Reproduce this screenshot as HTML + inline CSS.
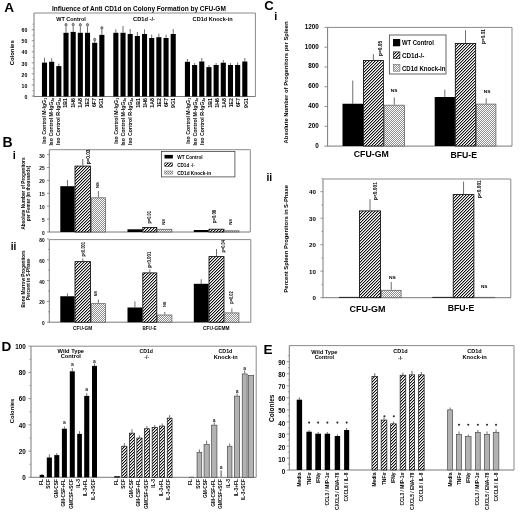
<!DOCTYPE html><html><head><meta charset="utf-8"><style>html,body{margin:0;padding:0;background:#fff;}svg{display:block;}text{font-family:"Liberation Sans",sans-serif;}</style></head><body>
<svg width="520" height="513" viewBox="0 0 520 513" style="filter:grayscale(1)">
<defs>
<pattern id="hatch" patternUnits="userSpaceOnUse" x="0" y="0" width="3" height="3"><rect x="0" y="0" width="1" height="1" fill="#111"/><rect x="1" y="0" width="1" height="1" fill="#a8a8a8"/><rect x="2" y="0" width="1" height="1" fill="#fff"/><rect x="0" y="1" width="1" height="1" fill="#a8a8a8"/><rect x="1" y="1" width="1" height="1" fill="#fff"/><rect x="2" y="1" width="1" height="1" fill="#111"/><rect x="0" y="2" width="1" height="1" fill="#fff"/><rect x="1" y="2" width="1" height="1" fill="#111"/><rect x="2" y="2" width="1" height="1" fill="#a8a8a8"/></pattern>
<pattern id="hatchs" patternUnits="userSpaceOnUse" x="0" y="0" width="3" height="3"><rect x="0" y="0" width="1" height="1" fill="#111"/><rect x="1" y="0" width="1" height="1" fill="#a8a8a8"/><rect x="2" y="0" width="1" height="1" fill="#fff"/><rect x="0" y="1" width="1" height="1" fill="#a8a8a8"/><rect x="1" y="1" width="1" height="1" fill="#fff"/><rect x="2" y="1" width="1" height="1" fill="#111"/><rect x="0" y="2" width="1" height="1" fill="#fff"/><rect x="1" y="2" width="1" height="1" fill="#111"/><rect x="2" y="2" width="1" height="1" fill="#a8a8a8"/></pattern>
<pattern id="dots" patternUnits="userSpaceOnUse" x="0" y="0" width="2" height="2"><rect x="0" y="0" width="1" height="1" fill="#fff"/><rect x="1" y="0" width="1" height="1" fill="#8e8e8e"/><rect x="0" y="1" width="1" height="1" fill="#8e8e8e"/><rect x="1" y="1" width="1" height="1" fill="#fff"/></pattern>
</defs>
<g>
<rect width="520" height="513" fill="#fff"/>
<g transform="translate(4.30,12.40)"><text x="0" y="0" font-size="13.6" font-weight="bold" text-anchor="start" fill="#000" >A</text></g>
<g transform="translate(52.00,10.80)"><text x="0" y="0" font-size="6.5" font-weight="bold" text-anchor="start" fill="#000" textLength="173.8" lengthAdjust="spacingAndGlyphs" >Influence of Anti CD1d on Colony Formation by CFU-GM</text></g>
<line x1="34.00" y1="13.00" x2="255.40" y2="13.00" stroke="#8a8a8a" stroke-width="1.0"/>
<line x1="255.40" y1="13.00" x2="255.40" y2="96.50" stroke="#8a8a8a" stroke-width="1.0"/>
<line x1="34.00" y1="13.00" x2="34.00" y2="96.50" stroke="#7a7a7a" stroke-width="1.0"/>
<line x1="33.50" y1="96.50" x2="255.40" y2="96.50" stroke="#7a7a7a" stroke-width="1.0"/>
<line x1="31.70" y1="96.00" x2="34.00" y2="96.00" stroke="#7a7a7a" stroke-width="0.8"/>
<g transform="translate(27.40,98.67)"><text x="0" y="0" font-size="5.2" font-weight="bold" text-anchor="end" fill="#000" >0</text></g>
<line x1="31.70" y1="84.95" x2="34.00" y2="84.95" stroke="#7a7a7a" stroke-width="0.8"/>
<g transform="translate(27.40,87.62)"><text x="0" y="0" font-size="5.2" font-weight="bold" text-anchor="end" fill="#000" >10</text></g>
<line x1="31.70" y1="73.90" x2="34.00" y2="73.90" stroke="#7a7a7a" stroke-width="0.8"/>
<g transform="translate(27.40,76.57)"><text x="0" y="0" font-size="5.2" font-weight="bold" text-anchor="end" fill="#000" >20</text></g>
<line x1="31.70" y1="62.85" x2="34.00" y2="62.85" stroke="#7a7a7a" stroke-width="0.8"/>
<g transform="translate(27.40,65.52)"><text x="0" y="0" font-size="5.2" font-weight="bold" text-anchor="end" fill="#000" >30</text></g>
<line x1="31.70" y1="51.80" x2="34.00" y2="51.80" stroke="#7a7a7a" stroke-width="0.8"/>
<g transform="translate(27.40,54.47)"><text x="0" y="0" font-size="5.2" font-weight="bold" text-anchor="end" fill="#000" >40</text></g>
<line x1="31.70" y1="40.75" x2="34.00" y2="40.75" stroke="#7a7a7a" stroke-width="0.8"/>
<g transform="translate(27.40,43.42)"><text x="0" y="0" font-size="5.2" font-weight="bold" text-anchor="end" fill="#000" >50</text></g>
<line x1="31.70" y1="29.70" x2="34.00" y2="29.70" stroke="#7a7a7a" stroke-width="0.8"/>
<g transform="translate(27.40,32.37)"><text x="0" y="0" font-size="5.2" font-weight="bold" text-anchor="end" fill="#000" >60</text></g>
<line x1="32.50" y1="90.47" x2="34.00" y2="90.47" stroke="#7a7a7a" stroke-width="0.7"/>
<line x1="32.50" y1="79.42" x2="34.00" y2="79.42" stroke="#7a7a7a" stroke-width="0.7"/>
<line x1="32.50" y1="68.38" x2="34.00" y2="68.38" stroke="#7a7a7a" stroke-width="0.7"/>
<line x1="32.50" y1="57.33" x2="34.00" y2="57.33" stroke="#7a7a7a" stroke-width="0.7"/>
<line x1="32.50" y1="46.27" x2="34.00" y2="46.27" stroke="#7a7a7a" stroke-width="0.7"/>
<line x1="32.50" y1="35.23" x2="34.00" y2="35.23" stroke="#7a7a7a" stroke-width="0.7"/>
<line x1="32.50" y1="24.17" x2="34.00" y2="24.17" stroke="#7a7a7a" stroke-width="0.7"/>
<g transform="translate(13.90,52.80) rotate(-90)"><text x="0" y="0" font-size="5.8" font-weight="bold" text-anchor="middle" fill="#000" textLength="25" lengthAdjust="spacingAndGlyphs" >Colonies</text></g>
<g transform="translate(56.20,20.80)"><text x="0" y="0" font-size="5.5" font-weight="bold" text-anchor="start" fill="#000" textLength="29.6" lengthAdjust="spacingAndGlyphs" >WT Control</text></g>
<g transform="translate(133.00,20.80)"><text x="0" y="0" font-size="5.5" font-weight="bold" text-anchor="start" fill="#000" textLength="22" lengthAdjust="spacingAndGlyphs" >CD1d -/-</text></g>
<g transform="translate(192.60,20.80)"><text x="0" y="0" font-size="5.5" font-weight="bold" text-anchor="start" fill="#000" textLength="40" lengthAdjust="spacingAndGlyphs" >CD1d Knock-in</text></g>
<line x1="44.50" y1="62.60" x2="44.50" y2="57.70" stroke="#4a4a4a" stroke-width="0.8"/>
<rect x="41.95" y="62.60" width="5.10" height="33.90" fill="#000"/>
<g transform="translate(45.85,98.00) rotate(-90)"><text x="0" y="0" font-size="5.25" font-weight="bold" text-anchor="end" fill="#000" >Iso Control M-IgG<tspan font-size="3.2" dy="1">1</tspan></text></g>
<line x1="51.67" y1="61.75" x2="51.67" y2="58.20" stroke="#4a4a4a" stroke-width="0.8"/>
<rect x="49.12" y="61.75" width="5.10" height="34.75" fill="#000"/>
<g transform="translate(53.02,98.00) rotate(-90)"><text x="0" y="0" font-size="5.25" font-weight="bold" text-anchor="end" fill="#000" >Iso Control M-IgG<tspan font-size="3.2" dy="1">2a</tspan></text></g>
<line x1="58.84" y1="66.10" x2="58.84" y2="63.60" stroke="#4a4a4a" stroke-width="0.8"/>
<rect x="56.29" y="66.10" width="5.10" height="30.40" fill="#000"/>
<g transform="translate(60.19,98.00) rotate(-90)"><text x="0" y="0" font-size="5.25" font-weight="bold" text-anchor="end" fill="#000" >Iso Control R-IgG<tspan font-size="3.2" dy="1">2a</tspan></text></g>
<line x1="66.01" y1="32.80" x2="66.01" y2="26.50" stroke="#4a4a4a" stroke-width="0.8"/>
<rect x="63.46" y="32.80" width="5.10" height="63.70" fill="#000"/>
<ellipse cx="66.01" cy="24.80" rx="1.05" ry="1.4" fill="#aaa" stroke="#444" stroke-width="0.7"/>
<g transform="translate(67.36,98.00) rotate(-90)"><text x="0" y="0" font-size="5.25" font-weight="bold" text-anchor="end" fill="#000" >1B1</text></g>
<line x1="73.18" y1="31.90" x2="73.18" y2="26.30" stroke="#4a4a4a" stroke-width="0.8"/>
<rect x="70.63" y="31.90" width="5.10" height="64.60" fill="#000"/>
<ellipse cx="73.18" cy="24.60" rx="1.05" ry="1.4" fill="#aaa" stroke="#444" stroke-width="0.7"/>
<g transform="translate(74.53,98.00) rotate(-90)"><text x="0" y="0" font-size="5.25" font-weight="bold" text-anchor="end" fill="#000" >1H6</text></g>
<line x1="80.35" y1="32.80" x2="80.35" y2="26.50" stroke="#4a4a4a" stroke-width="0.8"/>
<rect x="77.80" y="32.80" width="5.10" height="63.70" fill="#000"/>
<ellipse cx="80.35" cy="24.80" rx="1.05" ry="1.4" fill="#aaa" stroke="#444" stroke-width="0.7"/>
<g transform="translate(81.70,98.00) rotate(-90)"><text x="0" y="0" font-size="5.25" font-weight="bold" text-anchor="end" fill="#000" >1A8</text></g>
<line x1="87.52" y1="32.80" x2="87.52" y2="26.50" stroke="#4a4a4a" stroke-width="0.8"/>
<rect x="84.97" y="32.80" width="5.10" height="63.70" fill="#000"/>
<ellipse cx="87.52" cy="24.80" rx="1.05" ry="1.4" fill="#aaa" stroke="#444" stroke-width="0.7"/>
<g transform="translate(88.87,98.00) rotate(-90)"><text x="0" y="0" font-size="5.25" font-weight="bold" text-anchor="end" fill="#000" >1E2</text></g>
<line x1="94.69" y1="42.80" x2="94.69" y2="41.00" stroke="#4a4a4a" stroke-width="0.8"/>
<rect x="92.14" y="42.80" width="5.10" height="53.70" fill="#000"/>
<ellipse cx="94.69" cy="39.60" rx="1.05" ry="1.4" fill="#aaa" stroke="#444" stroke-width="0.7"/>
<g transform="translate(96.04,98.00) rotate(-90)"><text x="0" y="0" font-size="5.25" font-weight="bold" text-anchor="end" fill="#000" >6F7</text></g>
<line x1="101.86" y1="34.90" x2="101.86" y2="29.90" stroke="#4a4a4a" stroke-width="0.8"/>
<rect x="99.31" y="34.90" width="5.10" height="61.60" fill="#000"/>
<ellipse cx="101.86" cy="28.00" rx="1.05" ry="1.4" fill="#aaa" stroke="#444" stroke-width="0.7"/>
<g transform="translate(103.21,98.00) rotate(-90)"><text x="0" y="0" font-size="5.25" font-weight="bold" text-anchor="end" fill="#000" >9G1</text></g>
<line x1="115.85" y1="32.80" x2="115.85" y2="29.30" stroke="#4a4a4a" stroke-width="0.8"/>
<rect x="113.30" y="32.80" width="5.10" height="63.70" fill="#000"/>
<g transform="translate(118.05,98.00) rotate(-90)"><text x="0" y="0" font-size="5.25" font-weight="bold" text-anchor="end" fill="#000" >Iso Control M-IgG<tspan font-size="3.2" dy="1">1</tspan></text></g>
<line x1="123.02" y1="32.80" x2="123.02" y2="26.00" stroke="#4a4a4a" stroke-width="0.8"/>
<rect x="120.47" y="32.80" width="5.10" height="63.70" fill="#000"/>
<g transform="translate(125.22,98.00) rotate(-90)"><text x="0" y="0" font-size="5.25" font-weight="bold" text-anchor="end" fill="#000" >Iso Control M-IgG<tspan font-size="3.2" dy="1">2a</tspan></text></g>
<line x1="130.19" y1="34.00" x2="130.19" y2="29.00" stroke="#4a4a4a" stroke-width="0.8"/>
<rect x="127.64" y="34.00" width="5.10" height="62.50" fill="#000"/>
<g transform="translate(132.39,98.00) rotate(-90)"><text x="0" y="0" font-size="5.25" font-weight="bold" text-anchor="end" fill="#000" >Iso Control R-IgG<tspan font-size="3.2" dy="1">2a</tspan></text></g>
<line x1="137.36" y1="36.00" x2="137.36" y2="32.00" stroke="#4a4a4a" stroke-width="0.8"/>
<rect x="134.81" y="36.00" width="5.10" height="60.50" fill="#000"/>
<g transform="translate(139.56,98.00) rotate(-90)"><text x="0" y="0" font-size="5.25" font-weight="bold" text-anchor="end" fill="#000" >1B1</text></g>
<line x1="144.53" y1="34.00" x2="144.53" y2="29.30" stroke="#4a4a4a" stroke-width="0.8"/>
<rect x="141.98" y="34.00" width="5.10" height="62.50" fill="#000"/>
<g transform="translate(146.73,98.00) rotate(-90)"><text x="0" y="0" font-size="5.25" font-weight="bold" text-anchor="end" fill="#000" >1H6</text></g>
<line x1="151.70" y1="38.00" x2="151.70" y2="34.60" stroke="#4a4a4a" stroke-width="0.8"/>
<rect x="149.15" y="38.00" width="5.10" height="58.50" fill="#000"/>
<g transform="translate(153.90,98.00) rotate(-90)"><text x="0" y="0" font-size="5.25" font-weight="bold" text-anchor="end" fill="#000" >1A8</text></g>
<line x1="158.87" y1="37.20" x2="158.87" y2="33.70" stroke="#4a4a4a" stroke-width="0.8"/>
<rect x="156.32" y="37.20" width="5.10" height="59.30" fill="#000"/>
<g transform="translate(161.07,98.00) rotate(-90)"><text x="0" y="0" font-size="5.25" font-weight="bold" text-anchor="end" fill="#000" >1E2</text></g>
<line x1="166.04" y1="38.00" x2="166.04" y2="34.60" stroke="#4a4a4a" stroke-width="0.8"/>
<rect x="163.49" y="38.00" width="5.10" height="58.50" fill="#000"/>
<g transform="translate(168.24,98.00) rotate(-90)"><text x="0" y="0" font-size="5.25" font-weight="bold" text-anchor="end" fill="#000" >6F7</text></g>
<line x1="173.21" y1="34.00" x2="173.21" y2="29.00" stroke="#4a4a4a" stroke-width="0.8"/>
<rect x="170.66" y="34.00" width="5.10" height="62.50" fill="#000"/>
<g transform="translate(175.41,98.00) rotate(-90)"><text x="0" y="0" font-size="5.25" font-weight="bold" text-anchor="end" fill="#000" >9G1</text></g>
<line x1="187.45" y1="61.80" x2="187.45" y2="59.00" stroke="#4a4a4a" stroke-width="0.8"/>
<rect x="184.90" y="61.80" width="5.10" height="34.70" fill="#000"/>
<g transform="translate(190.15,98.00) rotate(-90)"><text x="0" y="0" font-size="5.25" font-weight="bold" text-anchor="end" fill="#000" >Iso Control M-IgG<tspan font-size="3.2" dy="1">1</tspan></text></g>
<line x1="194.62" y1="65.00" x2="194.62" y2="63.00" stroke="#4a4a4a" stroke-width="0.8"/>
<rect x="192.07" y="65.00" width="5.10" height="31.50" fill="#000"/>
<g transform="translate(197.32,98.00) rotate(-90)"><text x="0" y="0" font-size="5.25" font-weight="bold" text-anchor="end" fill="#000" >Iso Control M-IgG<tspan font-size="3.2" dy="1">2a</tspan></text></g>
<line x1="201.79" y1="61.50" x2="201.79" y2="58.00" stroke="#4a4a4a" stroke-width="0.8"/>
<rect x="199.24" y="61.50" width="5.10" height="35.00" fill="#000"/>
<g transform="translate(204.49,98.00) rotate(-90)"><text x="0" y="0" font-size="5.25" font-weight="bold" text-anchor="end" fill="#000" >Iso Control R-IgG<tspan font-size="3.2" dy="1">2a</tspan></text></g>
<line x1="208.96" y1="67.10" x2="208.96" y2="65.00" stroke="#4a4a4a" stroke-width="0.8"/>
<rect x="206.41" y="67.10" width="5.10" height="29.40" fill="#000"/>
<g transform="translate(211.66,98.00) rotate(-90)"><text x="0" y="0" font-size="5.25" font-weight="bold" text-anchor="end" fill="#000" >1B1</text></g>
<line x1="216.13" y1="65.00" x2="216.13" y2="63.00" stroke="#4a4a4a" stroke-width="0.8"/>
<rect x="213.58" y="65.00" width="5.10" height="31.50" fill="#000"/>
<g transform="translate(218.83,98.00) rotate(-90)"><text x="0" y="0" font-size="5.25" font-weight="bold" text-anchor="end" fill="#000" >1H6</text></g>
<line x1="223.30" y1="62.70" x2="223.30" y2="60.00" stroke="#4a4a4a" stroke-width="0.8"/>
<rect x="220.75" y="62.70" width="5.10" height="33.80" fill="#000"/>
<g transform="translate(226.00,98.00) rotate(-90)"><text x="0" y="0" font-size="5.25" font-weight="bold" text-anchor="end" fill="#000" >1A8</text></g>
<line x1="230.47" y1="65.00" x2="230.47" y2="63.00" stroke="#4a4a4a" stroke-width="0.8"/>
<rect x="227.92" y="65.00" width="5.10" height="31.50" fill="#000"/>
<g transform="translate(233.17,98.00) rotate(-90)"><text x="0" y="0" font-size="5.25" font-weight="bold" text-anchor="end" fill="#000" >1E2</text></g>
<line x1="237.64" y1="65.00" x2="237.64" y2="62.50" stroke="#4a4a4a" stroke-width="0.8"/>
<rect x="235.09" y="65.00" width="5.10" height="31.50" fill="#000"/>
<g transform="translate(240.34,98.00) rotate(-90)"><text x="0" y="0" font-size="5.25" font-weight="bold" text-anchor="end" fill="#000" >6F7</text></g>
<line x1="244.81" y1="61.50" x2="244.81" y2="58.00" stroke="#4a4a4a" stroke-width="0.8"/>
<rect x="242.26" y="61.50" width="5.10" height="35.00" fill="#000"/>
<g transform="translate(247.51,98.00) rotate(-90)"><text x="0" y="0" font-size="5.25" font-weight="bold" text-anchor="end" fill="#000" >9G1</text></g>
<g transform="translate(2.60,146.50)"><text x="0" y="0" font-size="14.0" font-weight="bold" text-anchor="start" fill="#000" >B</text></g>
<g transform="translate(12.70,158.60)"><text x="0" y="0" font-size="11.0" font-weight="bold" text-anchor="start" fill="#000" >i</text></g>
<g transform="translate(10.80,250.40)"><text x="0" y="0" font-size="11.0" font-weight="bold" text-anchor="start" fill="#000" textLength="5.6" lengthAdjust="spacingAndGlyphs" >ii</text></g>
<line x1="49.30" y1="149.70" x2="250.30" y2="149.70" stroke="#8a8a8a" stroke-width="1.0"/>
<line x1="250.30" y1="149.70" x2="250.30" y2="232.00" stroke="#8a8a8a" stroke-width="1.0"/>
<line x1="49.30" y1="149.70" x2="49.30" y2="232.00" stroke="#7a7a7a" stroke-width="1.0"/>
<line x1="48.80" y1="232.00" x2="250.30" y2="232.00" stroke="#7a7a7a" stroke-width="1.0"/>
<line x1="47.00" y1="232.00" x2="49.30" y2="232.00" stroke="#7a7a7a" stroke-width="0.8"/>
<g transform="translate(44.60,234.93)"><text x="0" y="0" font-size="4.8" font-weight="bold" text-anchor="end" fill="#000" >0</text></g>
<line x1="47.00" y1="219.10" x2="49.30" y2="219.10" stroke="#7a7a7a" stroke-width="0.8"/>
<g transform="translate(44.60,222.03)"><text x="0" y="0" font-size="4.8" font-weight="bold" text-anchor="end" fill="#000" >5</text></g>
<line x1="47.00" y1="206.20" x2="49.30" y2="206.20" stroke="#7a7a7a" stroke-width="0.8"/>
<g transform="translate(44.60,209.13)"><text x="0" y="0" font-size="4.8" font-weight="bold" text-anchor="end" fill="#000" >10</text></g>
<line x1="47.00" y1="193.30" x2="49.30" y2="193.30" stroke="#7a7a7a" stroke-width="0.8"/>
<g transform="translate(44.60,196.23)"><text x="0" y="0" font-size="4.8" font-weight="bold" text-anchor="end" fill="#000" >15</text></g>
<line x1="47.00" y1="180.40" x2="49.30" y2="180.40" stroke="#7a7a7a" stroke-width="0.8"/>
<g transform="translate(44.60,183.33)"><text x="0" y="0" font-size="4.8" font-weight="bold" text-anchor="end" fill="#000" >20</text></g>
<line x1="47.00" y1="167.50" x2="49.30" y2="167.50" stroke="#7a7a7a" stroke-width="0.8"/>
<g transform="translate(44.60,170.43)"><text x="0" y="0" font-size="4.8" font-weight="bold" text-anchor="end" fill="#000" >25</text></g>
<line x1="47.00" y1="154.60" x2="49.30" y2="154.60" stroke="#7a7a7a" stroke-width="0.8"/>
<g transform="translate(44.60,157.53)"><text x="0" y="0" font-size="4.8" font-weight="bold" text-anchor="end" fill="#000" >30</text></g>
<g transform="translate(24.50,193.50) rotate(-90)"><text x="0" y="0" font-size="4.65" font-weight="bold" text-anchor="middle" fill="#000" textLength="72" lengthAdjust="spacingAndGlyphs" >Absolute Number of Progenitors</text></g>
<g transform="translate(30.40,193.50) rotate(-90)"><text x="0" y="0" font-size="4.65" font-weight="bold" text-anchor="middle" fill="#000" textLength="55.5" lengthAdjust="spacingAndGlyphs" >per Femur (in thousands)</text></g>
<line x1="67.45" y1="186.20" x2="67.45" y2="180.00" stroke="#4a4a4a" stroke-width="0.8"/>
<rect x="60.30" y="186.20" width="14.30" height="45.80" fill="#000"/>
<line x1="82.75" y1="165.70" x2="82.75" y2="159.00" stroke="#4a4a4a" stroke-width="0.8"/>
<rect x="75.00" y="166.10" width="15.50" height="65.90" fill="url(#hatch)" stroke="#000" stroke-width="0.8"/>
<line x1="98.40" y1="197.40" x2="98.40" y2="191.00" stroke="#4a4a4a" stroke-width="0.8"/>
<rect x="91.30" y="197.80" width="14.20" height="34.20" fill="url(#dots)" stroke="#666" stroke-width="0.8"/>
<rect x="127.50" y="229.30" width="14.90" height="2.70" fill="#000"/>
<rect x="142.80" y="227.50" width="14.00" height="4.50" fill="url(#hatch)" stroke="#000" stroke-width="0.8"/>
<rect x="157.60" y="229.30" width="14.30" height="2.70" fill="url(#dots)" stroke="#666" stroke-width="0.8"/>
<rect x="193.80" y="230.00" width="14.80" height="2.00" fill="#000"/>
<rect x="209.00" y="229.20" width="15.00" height="2.80" fill="url(#hatch)" stroke="#000" stroke-width="0.8"/>
<rect x="224.80" y="230.80" width="14.10" height="1.20" fill="url(#dots)" stroke="#666" stroke-width="0.8"/>
<g transform="translate(90.20,149.60) rotate(-90)"><text x="0" y="0" font-size="4.7" font-weight="bold" text-anchor="end" fill="#000" textLength="14.7" lengthAdjust="spacingAndGlyphs" >p=0.03</text></g>
<g transform="translate(98.90,182.20) rotate(-90)"><text x="0" y="0" font-size="4.3" font-weight="bold" text-anchor="end" fill="#000" textLength="5.9" lengthAdjust="spacingAndGlyphs" >NS</text></g>
<g transform="translate(150.60,211.00) rotate(-90)"><text x="0" y="0" font-size="4.5" font-weight="bold" text-anchor="end" fill="#000" textLength="12.6" lengthAdjust="spacingAndGlyphs" >p=0.01</text></g>
<g transform="translate(165.20,219.00) rotate(-90)"><text x="0" y="0" font-size="4.3" font-weight="bold" text-anchor="end" fill="#000" textLength="5.8" lengthAdjust="spacingAndGlyphs" >NS</text></g>
<g transform="translate(216.40,210.00) rotate(-90)"><text x="0" y="0" font-size="4.5" font-weight="bold" text-anchor="end" fill="#000" textLength="13" lengthAdjust="spacingAndGlyphs" >p=0.08</text></g>
<g transform="translate(232.30,219.00) rotate(-90)"><text x="0" y="0" font-size="4.3" font-weight="bold" text-anchor="end" fill="#000" textLength="5.8" lengthAdjust="spacingAndGlyphs" >NS</text></g>
<rect x="161.40" y="151.40" width="73.50" height="25.50" fill="none" stroke="#444" stroke-width="0.8"/>
<rect x="164.50" y="154.90" width="8.40" height="3.60" fill="#000"/>
<rect x="164.80" y="162.90" width="7.80" height="3.40" fill="url(#hatchs)" stroke="#000" stroke-width="0.5"/>
<rect x="164.80" y="171.00" width="7.80" height="3.10" fill="url(#dots)" stroke="#666" stroke-width="0.5"/>
<g transform="translate(177.20,158.80)"><text x="0" y="0" font-size="4.9" font-weight="bold" text-anchor="start" fill="#000" textLength="25.4" lengthAdjust="spacingAndGlyphs" >WT Control</text></g>
<g transform="translate(177.20,166.80)"><text x="0" y="0" font-size="4.9" font-weight="bold" text-anchor="start" fill="#000" textLength="17.7" lengthAdjust="spacingAndGlyphs" >CD1d -/-</text></g>
<g transform="translate(177.20,174.70)"><text x="0" y="0" font-size="4.9" font-weight="bold" text-anchor="start" fill="#000" textLength="33.9" lengthAdjust="spacingAndGlyphs" >CD1d Knock-in</text></g>
<line x1="49.30" y1="239.60" x2="250.80" y2="239.60" stroke="#8a8a8a" stroke-width="1.0"/>
<line x1="250.80" y1="239.60" x2="250.80" y2="322.20" stroke="#8a8a8a" stroke-width="1.0"/>
<line x1="49.30" y1="239.60" x2="49.30" y2="322.20" stroke="#7a7a7a" stroke-width="1.0"/>
<line x1="48.80" y1="322.20" x2="250.80" y2="322.20" stroke="#7a7a7a" stroke-width="1.0"/>
<line x1="47.00" y1="322.20" x2="49.30" y2="322.20" stroke="#7a7a7a" stroke-width="0.8"/>
<g transform="translate(44.60,325.13)"><text x="0" y="0" font-size="4.8" font-weight="bold" text-anchor="end" fill="#000" >0</text></g>
<line x1="47.00" y1="301.40" x2="49.30" y2="301.40" stroke="#7a7a7a" stroke-width="0.8"/>
<g transform="translate(44.60,304.33)"><text x="0" y="0" font-size="4.8" font-weight="bold" text-anchor="end" fill="#000" >20</text></g>
<line x1="47.00" y1="280.60" x2="49.30" y2="280.60" stroke="#7a7a7a" stroke-width="0.8"/>
<g transform="translate(44.60,283.53)"><text x="0" y="0" font-size="4.8" font-weight="bold" text-anchor="end" fill="#000" >40</text></g>
<line x1="47.00" y1="259.80" x2="49.30" y2="259.80" stroke="#7a7a7a" stroke-width="0.8"/>
<g transform="translate(44.60,262.73)"><text x="0" y="0" font-size="4.8" font-weight="bold" text-anchor="end" fill="#000" >60</text></g>
<line x1="47.00" y1="239.00" x2="49.30" y2="239.00" stroke="#7a7a7a" stroke-width="0.8"/>
<g transform="translate(44.60,241.93)"><text x="0" y="0" font-size="4.8" font-weight="bold" text-anchor="end" fill="#000" >80</text></g>
<line x1="47.90" y1="311.80" x2="49.30" y2="311.80" stroke="#7a7a7a" stroke-width="0.7"/>
<line x1="47.90" y1="291.00" x2="49.30" y2="291.00" stroke="#7a7a7a" stroke-width="0.7"/>
<line x1="47.90" y1="270.20" x2="49.30" y2="270.20" stroke="#7a7a7a" stroke-width="0.7"/>
<line x1="47.90" y1="249.40" x2="49.30" y2="249.40" stroke="#7a7a7a" stroke-width="0.7"/>
<g transform="translate(24.60,279.00) rotate(-90)"><text x="0" y="0" font-size="4.65" font-weight="bold" text-anchor="middle" fill="#000" textLength="57.2" lengthAdjust="spacingAndGlyphs" >Bone Marrow Progenitors</text></g>
<g transform="translate(29.90,279.20) rotate(-90)"><text x="0" y="0" font-size="4.65" font-weight="bold" text-anchor="middle" fill="#000" textLength="41.6" lengthAdjust="spacingAndGlyphs" >Percent in S-Phase</text></g>
<line x1="67.45" y1="296.25" x2="67.45" y2="293.50" stroke="#4a4a4a" stroke-width="0.8"/>
<rect x="60.30" y="296.25" width="14.30" height="25.95" fill="#000"/>
<line x1="82.75" y1="261.25" x2="82.75" y2="258.50" stroke="#4a4a4a" stroke-width="0.8"/>
<rect x="75.00" y="261.65" width="15.50" height="60.55" fill="url(#hatch)" stroke="#000" stroke-width="0.8"/>
<line x1="98.40" y1="303.25" x2="98.40" y2="299.50" stroke="#4a4a4a" stroke-width="0.8"/>
<rect x="91.30" y="303.65" width="14.20" height="18.55" fill="url(#dots)" stroke="#666" stroke-width="0.8"/>
<line x1="134.95" y1="307.50" x2="134.95" y2="301.40" stroke="#4a4a4a" stroke-width="0.8"/>
<rect x="127.50" y="307.50" width="14.90" height="14.70" fill="#000"/>
<line x1="149.80" y1="272.50" x2="149.80" y2="269.40" stroke="#4a4a4a" stroke-width="0.8"/>
<rect x="142.80" y="272.90" width="14.00" height="49.30" fill="url(#hatch)" stroke="#000" stroke-width="0.8"/>
<line x1="164.75" y1="314.60" x2="164.75" y2="312.00" stroke="#4a4a4a" stroke-width="0.8"/>
<rect x="157.60" y="315.00" width="14.30" height="7.20" fill="url(#dots)" stroke="#666" stroke-width="0.8"/>
<line x1="201.20" y1="283.80" x2="201.20" y2="279.20" stroke="#4a4a4a" stroke-width="0.8"/>
<rect x="193.80" y="283.80" width="14.80" height="38.40" fill="#000"/>
<line x1="216.50" y1="256.20" x2="216.50" y2="249.00" stroke="#4a4a4a" stroke-width="0.8"/>
<rect x="209.00" y="256.60" width="15.00" height="65.60" fill="url(#hatch)" stroke="#000" stroke-width="0.8"/>
<line x1="231.85" y1="312.50" x2="231.85" y2="308.50" stroke="#4a4a4a" stroke-width="0.8"/>
<rect x="224.80" y="312.90" width="14.10" height="9.30" fill="url(#dots)" stroke="#666" stroke-width="0.8"/>
<g transform="translate(84.50,242.00) rotate(-90)"><text x="0" y="0" font-size="4.5" font-weight="bold" text-anchor="end" fill="#000" textLength="14.6" lengthAdjust="spacingAndGlyphs" >p&lt;0.001</text></g>
<g transform="translate(96.90,291.00) rotate(-90)"><text x="0" y="0" font-size="4.3" font-weight="bold" text-anchor="end" fill="#000" textLength="5.2" lengthAdjust="spacingAndGlyphs" >NS</text></g>
<g transform="translate(150.80,251.70) rotate(-90)"><text x="0" y="0" font-size="4.5" font-weight="bold" text-anchor="end" fill="#000" textLength="16" lengthAdjust="spacingAndGlyphs" >p&lt;0.001</text></g>
<g transform="translate(165.60,301.50) rotate(-90)"><text x="0" y="0" font-size="4.3" font-weight="bold" text-anchor="end" fill="#000" textLength="5.5" lengthAdjust="spacingAndGlyphs" >NS</text></g>
<g transform="translate(224.70,240.00) rotate(-90)"><text x="0" y="0" font-size="4.5" font-weight="bold" text-anchor="end" fill="#000" textLength="12.4" lengthAdjust="spacingAndGlyphs" >p=0.04</text></g>
<g transform="translate(232.80,291.30) rotate(-90)"><text x="0" y="0" font-size="4.5" font-weight="bold" text-anchor="end" fill="#000" textLength="12.4" lengthAdjust="spacingAndGlyphs" >p=0.02</text></g>
<g transform="translate(82.60,330.00)"><text x="0" y="0" font-size="4.75" font-weight="bold" text-anchor="middle" fill="#000" textLength="19" lengthAdjust="spacingAndGlyphs" >CFU-GM</text></g>
<g transform="translate(149.50,330.00)"><text x="0" y="0" font-size="4.75" font-weight="bold" text-anchor="middle" fill="#000" textLength="14" lengthAdjust="spacingAndGlyphs" >BFU-E</text></g>
<g transform="translate(216.20,330.00)"><text x="0" y="0" font-size="4.75" font-weight="bold" text-anchor="middle" fill="#000" textLength="26.4" lengthAdjust="spacingAndGlyphs" >CFU-GEMM</text></g>
<g transform="translate(264.20,10.30)"><text x="0" y="0" font-size="13.2" font-weight="bold" text-anchor="start" fill="#000" >C</text></g>
<g transform="translate(274.20,20.00)"><text x="0" y="0" font-size="10.8" font-weight="bold" text-anchor="start" fill="#000" >i</text></g>
<g transform="translate(266.40,181.40)"><text x="0" y="0" font-size="11.0" font-weight="bold" text-anchor="start" fill="#000" textLength="5.8" lengthAdjust="spacingAndGlyphs" >ii</text></g>
<line x1="327.60" y1="27.40" x2="512.00" y2="27.40" stroke="#8a8a8a" stroke-width="1.0"/>
<line x1="512.00" y1="27.40" x2="512.00" y2="146.10" stroke="#8a8a8a" stroke-width="1.0"/>
<line x1="327.60" y1="27.40" x2="327.60" y2="146.10" stroke="#7a7a7a" stroke-width="1.0"/>
<line x1="327.10" y1="146.10" x2="512.00" y2="146.10" stroke="#7a7a7a" stroke-width="1.0"/>
<line x1="324.40" y1="146.10" x2="327.60" y2="146.10" stroke="#7a7a7a" stroke-width="0.8"/>
<g transform="translate(318.80,147.57)"><text x="0" y="0" font-size="6.3" font-weight="bold" text-anchor="end" fill="#000" >0</text></g>
<line x1="324.40" y1="126.32" x2="327.60" y2="126.32" stroke="#7a7a7a" stroke-width="0.8"/>
<g transform="translate(318.80,127.79)"><text x="0" y="0" font-size="6.3" font-weight="bold" text-anchor="end" fill="#000" >200</text></g>
<line x1="324.40" y1="106.54" x2="327.60" y2="106.54" stroke="#7a7a7a" stroke-width="0.8"/>
<g transform="translate(318.80,108.01)"><text x="0" y="0" font-size="6.3" font-weight="bold" text-anchor="end" fill="#000" >400</text></g>
<line x1="324.40" y1="86.76" x2="327.60" y2="86.76" stroke="#7a7a7a" stroke-width="0.8"/>
<g transform="translate(318.80,88.23)"><text x="0" y="0" font-size="6.3" font-weight="bold" text-anchor="end" fill="#000" >600</text></g>
<line x1="324.40" y1="66.98" x2="327.60" y2="66.98" stroke="#7a7a7a" stroke-width="0.8"/>
<g transform="translate(318.80,68.45)"><text x="0" y="0" font-size="6.3" font-weight="bold" text-anchor="end" fill="#000" >800</text></g>
<line x1="324.40" y1="47.20" x2="327.60" y2="47.20" stroke="#7a7a7a" stroke-width="0.8"/>
<g transform="translate(318.80,48.67)"><text x="0" y="0" font-size="6.3" font-weight="bold" text-anchor="end" fill="#000" >1000</text></g>
<line x1="324.40" y1="27.42" x2="327.60" y2="27.42" stroke="#7a7a7a" stroke-width="0.8"/>
<g transform="translate(318.80,28.89)"><text x="0" y="0" font-size="6.3" font-weight="bold" text-anchor="end" fill="#000" >1200</text></g>
<g transform="translate(288.20,82.40) rotate(-90)"><text x="0" y="0" font-size="5.86" font-weight="bold" text-anchor="middle" fill="#000" textLength="122" lengthAdjust="spacingAndGlyphs" >Absolute Number of Progenitors per Spleen</text></g>
<line x1="352.75" y1="103.75" x2="352.75" y2="80.50" stroke="#4a4a4a" stroke-width="0.8"/>
<rect x="342.50" y="103.75" width="20.50" height="42.25" fill="#000"/>
<line x1="373.38" y1="60.00" x2="373.38" y2="54.20" stroke="#4a4a4a" stroke-width="0.8"/>
<rect x="363.40" y="60.40" width="19.95" height="85.60" fill="url(#hatch)" stroke="#000" stroke-width="0.8"/>
<line x1="394.27" y1="104.80" x2="394.27" y2="97.50" stroke="#4a4a4a" stroke-width="0.8"/>
<rect x="384.15" y="105.20" width="20.25" height="40.80" fill="url(#dots)" stroke="#666" stroke-width="0.8"/>
<line x1="444.80" y1="97.00" x2="444.80" y2="89.70" stroke="#4a4a4a" stroke-width="0.8"/>
<rect x="434.70" y="97.00" width="20.20" height="49.00" fill="#000"/>
<line x1="465.50" y1="43.10" x2="465.50" y2="30.20" stroke="#4a4a4a" stroke-width="0.8"/>
<rect x="455.30" y="43.50" width="20.40" height="102.50" fill="url(#hatch)" stroke="#000" stroke-width="0.8"/>
<line x1="486.20" y1="103.70" x2="486.20" y2="98.30" stroke="#4a4a4a" stroke-width="0.8"/>
<rect x="476.50" y="104.10" width="19.40" height="41.90" fill="url(#dots)" stroke="#666" stroke-width="0.8"/>
<g transform="translate(382.40,40.80) rotate(-90)"><text x="0" y="0" font-size="5.5" font-weight="bold" text-anchor="end" fill="#000" textLength="15.2" lengthAdjust="spacingAndGlyphs" >p=0.05</text></g>
<g transform="translate(484.80,29.10) rotate(-90)"><text x="0" y="0" font-size="5.5" font-weight="bold" text-anchor="end" fill="#000" textLength="14.8" lengthAdjust="spacingAndGlyphs" >p=0.01</text></g>
<g transform="translate(394.20,91.60)"><text x="0" y="0" font-size="4.3" font-weight="bold" text-anchor="middle" fill="#000" textLength="6.7" lengthAdjust="spacingAndGlyphs" >NS</text></g>
<g transform="translate(487.00,93.10)"><text x="0" y="0" font-size="4.3" font-weight="bold" text-anchor="middle" fill="#000" textLength="6.7" lengthAdjust="spacingAndGlyphs" >NS</text></g>
<rect x="389.40" y="35.00" width="56.60" height="39.00" fill="none" stroke="#555" stroke-width="0.9"/>
<rect x="393.00" y="39.00" width="7.20" height="7.30" fill="#000"/>
<rect x="393.30" y="51.90" width="6.60" height="6.70" fill="url(#hatch)" stroke="#000" stroke-width="0.6"/>
<rect x="393.30" y="64.50" width="6.60" height="6.70" fill="url(#dots)" stroke="#666" stroke-width="0.6"/>
<g transform="translate(402.00,45.30)"><text x="0" y="0" font-size="6.3" font-weight="bold" text-anchor="start" fill="#000" textLength="31.8" lengthAdjust="spacingAndGlyphs" >WT Control</text></g>
<g transform="translate(402.00,58.00)"><text x="0" y="0" font-size="6.3" font-weight="bold" text-anchor="start" fill="#000" textLength="22.4" lengthAdjust="spacingAndGlyphs" >CD1d-/-</text></g>
<g transform="translate(402.00,70.60)"><text x="0" y="0" font-size="6.3" font-weight="bold" text-anchor="start" fill="#000" textLength="43.4" lengthAdjust="spacingAndGlyphs" >CD1d Knock-in</text></g>
<g transform="translate(371.30,157.30)"><text x="0" y="0" font-size="8.7" font-weight="bold" text-anchor="middle" fill="#000" textLength="35" lengthAdjust="spacingAndGlyphs" >CFU-GM</text></g>
<g transform="translate(463.80,157.60)"><text x="0" y="0" font-size="8.7" font-weight="bold" text-anchor="middle" fill="#000" textLength="26.5" lengthAdjust="spacingAndGlyphs" >BFU-E</text></g>
<line x1="323.00" y1="179.00" x2="510.80" y2="179.00" stroke="#8a8a8a" stroke-width="1.0"/>
<line x1="510.80" y1="179.00" x2="510.80" y2="297.70" stroke="#8a8a8a" stroke-width="1.0"/>
<line x1="323.00" y1="179.00" x2="323.00" y2="297.70" stroke="#7a7a7a" stroke-width="1.0"/>
<line x1="322.50" y1="297.70" x2="510.80" y2="297.70" stroke="#7a7a7a" stroke-width="1.0"/>
<line x1="320.40" y1="297.70" x2="323.00" y2="297.70" stroke="#7a7a7a" stroke-width="0.8"/>
<g transform="translate(316.00,300.23)"><text x="0" y="0" font-size="6.2" font-weight="bold" text-anchor="end" fill="#000" >0</text></g>
<line x1="320.40" y1="271.20" x2="323.00" y2="271.20" stroke="#7a7a7a" stroke-width="0.8"/>
<g transform="translate(316.00,273.73)"><text x="0" y="0" font-size="6.2" font-weight="bold" text-anchor="end" fill="#000" >10</text></g>
<line x1="320.40" y1="244.70" x2="323.00" y2="244.70" stroke="#7a7a7a" stroke-width="0.8"/>
<g transform="translate(316.00,247.23)"><text x="0" y="0" font-size="6.2" font-weight="bold" text-anchor="end" fill="#000" >20</text></g>
<line x1="320.40" y1="218.20" x2="323.00" y2="218.20" stroke="#7a7a7a" stroke-width="0.8"/>
<g transform="translate(316.00,220.73)"><text x="0" y="0" font-size="6.2" font-weight="bold" text-anchor="end" fill="#000" >30</text></g>
<line x1="320.40" y1="191.70" x2="323.00" y2="191.70" stroke="#7a7a7a" stroke-width="0.8"/>
<g transform="translate(316.00,194.23)"><text x="0" y="0" font-size="6.2" font-weight="bold" text-anchor="end" fill="#000" >40</text></g>
<line x1="321.50" y1="284.45" x2="323.00" y2="284.45" stroke="#7a7a7a" stroke-width="0.7"/>
<line x1="321.50" y1="257.95" x2="323.00" y2="257.95" stroke="#7a7a7a" stroke-width="0.7"/>
<line x1="321.50" y1="231.45" x2="323.00" y2="231.45" stroke="#7a7a7a" stroke-width="0.7"/>
<line x1="321.50" y1="204.95" x2="323.00" y2="204.95" stroke="#7a7a7a" stroke-width="0.7"/>
<line x1="321.50" y1="178.45" x2="323.00" y2="178.45" stroke="#7a7a7a" stroke-width="0.7"/>
<g transform="translate(288.00,238.80) rotate(-90)"><text x="0" y="0" font-size="5.8" font-weight="bold" text-anchor="middle" fill="#000" textLength="107.7" lengthAdjust="spacingAndGlyphs" >Percent Spleen Progenitors in S-Phase</text></g>
<rect x="339.00" y="296.90" width="20.00" height="0.80" fill="#000"/>
<line x1="370.00" y1="210.50" x2="370.00" y2="199.20" stroke="#4a4a4a" stroke-width="0.8"/>
<rect x="359.40" y="210.90" width="21.20" height="86.80" fill="url(#hatch)" stroke="#000" stroke-width="0.8"/>
<line x1="391.25" y1="289.90" x2="391.25" y2="282.00" stroke="#4a4a4a" stroke-width="0.8"/>
<rect x="381.40" y="290.30" width="19.70" height="7.40" fill="url(#dots)" stroke="#666" stroke-width="0.8"/>
<rect x="432.30" y="296.90" width="20.50" height="0.80" fill="#000"/>
<line x1="463.55" y1="194.20" x2="463.55" y2="181.60" stroke="#4a4a4a" stroke-width="0.8"/>
<rect x="453.20" y="194.60" width="20.70" height="103.10" fill="url(#hatch)" stroke="#000" stroke-width="0.8"/>
<rect x="474.70" y="297.30" width="20.10" height="0.40" fill="url(#dots)" stroke="#666" stroke-width="0.8"/>
<g transform="translate(376.60,182.00) rotate(-90)"><text x="0" y="0" font-size="5.0" font-weight="bold" text-anchor="end" fill="#000" textLength="18" lengthAdjust="spacingAndGlyphs" >p&lt;0.001</text></g>
<g transform="translate(481.00,180.20) rotate(-90)"><text x="0" y="0" font-size="5.0" font-weight="bold" text-anchor="end" fill="#000" textLength="17.9" lengthAdjust="spacingAndGlyphs" >p&lt;0.001</text></g>
<g transform="translate(392.40,278.80)"><text x="0" y="0" font-size="4.3" font-weight="bold" text-anchor="middle" fill="#000" textLength="6.8" lengthAdjust="spacingAndGlyphs" >NS</text></g>
<g transform="translate(484.20,288.40)"><text x="0" y="0" font-size="4.3" font-weight="bold" text-anchor="middle" fill="#000" textLength="6.5" lengthAdjust="spacingAndGlyphs" >NS</text></g>
<g transform="translate(367.50,312.30)"><text x="0" y="0" font-size="8.7" font-weight="bold" text-anchor="middle" fill="#000" textLength="35.9" lengthAdjust="spacingAndGlyphs" >CFU-GM</text></g>
<g transform="translate(461.00,310.80)"><text x="0" y="0" font-size="8.7" font-weight="bold" text-anchor="middle" fill="#000" textLength="26.5" lengthAdjust="spacingAndGlyphs" >BFU-E</text></g>
<g transform="translate(1.50,351.30)"><text x="0" y="0" font-size="13.6" font-weight="bold" text-anchor="start" fill="#000" >D</text></g>
<line x1="31.00" y1="346.20" x2="256.20" y2="346.20" stroke="#8a8a8a" stroke-width="1.0"/>
<line x1="256.20" y1="346.20" x2="256.20" y2="477.30" stroke="#8a8a8a" stroke-width="1.0"/>
<line x1="31.00" y1="346.20" x2="31.00" y2="477.30" stroke="#7a7a7a" stroke-width="1.0"/>
<line x1="30.50" y1="477.30" x2="256.20" y2="477.30" stroke="#7a7a7a" stroke-width="1.0"/>
<line x1="28.40" y1="477.30" x2="31.00" y2="477.30" stroke="#7a7a7a" stroke-width="0.8"/>
<g transform="translate(25.80,480.07)"><text x="0" y="0" font-size="6.3" font-weight="bold" text-anchor="end" fill="#000" >0</text></g>
<line x1="28.40" y1="451.08" x2="31.00" y2="451.08" stroke="#7a7a7a" stroke-width="0.8"/>
<g transform="translate(25.80,453.85)"><text x="0" y="0" font-size="6.3" font-weight="bold" text-anchor="end" fill="#000" >20</text></g>
<line x1="28.40" y1="424.86" x2="31.00" y2="424.86" stroke="#7a7a7a" stroke-width="0.8"/>
<g transform="translate(25.80,427.63)"><text x="0" y="0" font-size="6.3" font-weight="bold" text-anchor="end" fill="#000" >40</text></g>
<line x1="28.40" y1="398.64" x2="31.00" y2="398.64" stroke="#7a7a7a" stroke-width="0.8"/>
<g transform="translate(25.80,401.41)"><text x="0" y="0" font-size="6.3" font-weight="bold" text-anchor="end" fill="#000" >60</text></g>
<line x1="28.40" y1="372.42" x2="31.00" y2="372.42" stroke="#7a7a7a" stroke-width="0.8"/>
<g transform="translate(25.80,375.19)"><text x="0" y="0" font-size="6.3" font-weight="bold" text-anchor="end" fill="#000" >80</text></g>
<line x1="28.40" y1="346.20" x2="31.00" y2="346.20" stroke="#7a7a7a" stroke-width="0.8"/>
<g transform="translate(25.80,348.97)"><text x="0" y="0" font-size="6.3" font-weight="bold" text-anchor="end" fill="#000" >100</text></g>
<line x1="29.50" y1="464.19" x2="31.00" y2="464.19" stroke="#7a7a7a" stroke-width="0.7"/>
<line x1="29.50" y1="437.97" x2="31.00" y2="437.97" stroke="#7a7a7a" stroke-width="0.7"/>
<line x1="29.50" y1="411.75" x2="31.00" y2="411.75" stroke="#7a7a7a" stroke-width="0.7"/>
<line x1="29.50" y1="385.53" x2="31.00" y2="385.53" stroke="#7a7a7a" stroke-width="0.7"/>
<line x1="29.50" y1="359.31" x2="31.00" y2="359.31" stroke="#7a7a7a" stroke-width="0.7"/>
<g transform="translate(13.50,411.00) rotate(-90)"><text x="0" y="0" font-size="6.2" font-weight="bold" text-anchor="middle" fill="#000" textLength="24.6" lengthAdjust="spacingAndGlyphs" >Colonies</text></g>
<g transform="translate(70.80,353.30)"><text x="0" y="0" font-size="5.7" font-weight="bold" text-anchor="middle" fill="#000" textLength="26.5" lengthAdjust="spacingAndGlyphs" >Wild Type</text></g>
<g transform="translate(70.80,358.40)"><text x="0" y="0" font-size="5.7" font-weight="bold" text-anchor="middle" fill="#000" textLength="20.3" lengthAdjust="spacingAndGlyphs" >Control</text></g>
<g transform="translate(146.20,352.90)"><text x="0" y="0" font-size="5.5" font-weight="bold" text-anchor="middle" fill="#000" textLength="13.5" lengthAdjust="spacingAndGlyphs" >CD1d</text></g>
<g transform="translate(146.70,359.20)"><text x="0" y="0" font-size="5.5" font-weight="bold" text-anchor="middle" fill="#000" textLength="4.8" lengthAdjust="spacingAndGlyphs" >-/-</text></g>
<g transform="translate(225.40,352.90)"><text x="0" y="0" font-size="5.5" font-weight="bold" text-anchor="middle" fill="#000" textLength="13.8" lengthAdjust="spacingAndGlyphs" >CD1d</text></g>
<g transform="translate(225.80,358.70)"><text x="0" y="0" font-size="5.5" font-weight="bold" text-anchor="middle" fill="#000" textLength="24" lengthAdjust="spacingAndGlyphs" >Knock-in</text></g>
<line x1="41.90" y1="474.90" x2="41.90" y2="473.80" stroke="#4a4a4a" stroke-width="0.8"/>
<rect x="39.70" y="474.90" width="4.40" height="2.40" fill="#000"/>
<g transform="translate(42.60,479.00) rotate(-90)"><text x="0" y="0" font-size="4.85" font-weight="bold" text-anchor="end" fill="#000" >FL</text></g>
<line x1="49.35" y1="457.50" x2="49.35" y2="454.40" stroke="#4a4a4a" stroke-width="0.8"/>
<rect x="46.80" y="457.50" width="5.10" height="19.80" fill="#000"/>
<g transform="translate(50.05,479.00) rotate(-90)"><text x="0" y="0" font-size="4.85" font-weight="bold" text-anchor="end" fill="#000" >SCF</text></g>
<line x1="56.80" y1="455.10" x2="56.80" y2="453.00" stroke="#4a4a4a" stroke-width="0.8"/>
<rect x="54.30" y="455.10" width="5.00" height="22.20" fill="#000"/>
<g transform="translate(57.50,479.00) rotate(-90)"><text x="0" y="0" font-size="4.85" font-weight="bold" text-anchor="end" fill="#000" >GM-CSF</text></g>
<line x1="64.40" y1="428.70" x2="64.40" y2="426.50" stroke="#4a4a4a" stroke-width="0.8"/>
<rect x="61.90" y="428.70" width="5.00" height="48.60" fill="#000"/>
<g transform="translate(64.40,424.30)"><text x="0" y="0" font-size="5.0" font-weight="bold" text-anchor="middle" fill="#222" >a</text></g>
<g transform="translate(65.10,479.00) rotate(-90)"><text x="0" y="0" font-size="4.85" font-weight="bold" text-anchor="end" fill="#000" >GM-CSF+FL</text></g>
<line x1="72.30" y1="371.30" x2="72.30" y2="368.10" stroke="#4a4a4a" stroke-width="0.8"/>
<rect x="69.80" y="371.30" width="5.00" height="106.00" fill="#000"/>
<g transform="translate(72.30,365.50)"><text x="0" y="0" font-size="5.0" font-weight="bold" text-anchor="middle" fill="#222" >a</text></g>
<g transform="translate(73.00,479.00) rotate(-90)"><text x="0" y="0" font-size="4.85" font-weight="bold" text-anchor="end" fill="#000" >GMCSF+SCF</text></g>
<line x1="79.55" y1="433.90" x2="79.55" y2="431.10" stroke="#4a4a4a" stroke-width="0.8"/>
<rect x="77.20" y="433.90" width="4.70" height="43.40" fill="#000"/>
<g transform="translate(80.25,479.00) rotate(-90)"><text x="0" y="0" font-size="4.85" font-weight="bold" text-anchor="end" fill="#000" >IL-3</text></g>
<line x1="86.75" y1="395.90" x2="86.75" y2="393.10" stroke="#4a4a4a" stroke-width="0.8"/>
<rect x="84.20" y="395.90" width="5.10" height="81.40" fill="#000"/>
<g transform="translate(86.75,391.30)"><text x="0" y="0" font-size="5.0" font-weight="bold" text-anchor="middle" fill="#222" >a</text></g>
<g transform="translate(87.45,479.00) rotate(-90)"><text x="0" y="0" font-size="4.85" font-weight="bold" text-anchor="end" fill="#000" >IL-3+FL</text></g>
<line x1="94.50" y1="365.90" x2="94.50" y2="363.50" stroke="#4a4a4a" stroke-width="0.8"/>
<rect x="92.00" y="365.90" width="5.00" height="111.40" fill="#000"/>
<g transform="translate(94.50,363.00)"><text x="0" y="0" font-size="5.0" font-weight="bold" text-anchor="middle" fill="#222" >a</text></g>
<g transform="translate(95.20,479.00) rotate(-90)"><text x="0" y="0" font-size="4.85" font-weight="bold" text-anchor="end" fill="#000" >IL-3+SCF</text></g>
<rect x="114.75" y="476.35" width="4.70" height="0.95" fill="url(#hatchs)" stroke="#111" stroke-width="0.7"/>
<g transform="translate(117.80,479.00) rotate(-90)"><text x="0" y="0" font-size="4.85" font-weight="bold" text-anchor="end" fill="#000" >FL</text></g>
<line x1="124.35" y1="445.90" x2="124.35" y2="443.20" stroke="#4a4a4a" stroke-width="0.8"/>
<rect x="121.75" y="446.25" width="5.20" height="31.05" fill="url(#hatchs)" stroke="#111" stroke-width="0.7"/>
<g transform="translate(125.05,479.00) rotate(-90)"><text x="0" y="0" font-size="4.85" font-weight="bold" text-anchor="end" fill="#000" >SCF</text></g>
<line x1="131.95" y1="432.80" x2="131.95" y2="429.20" stroke="#4a4a4a" stroke-width="0.8"/>
<rect x="129.35" y="433.15" width="5.20" height="44.15" fill="url(#hatchs)" stroke="#111" stroke-width="0.7"/>
<g transform="translate(132.65,479.00) rotate(-90)"><text x="0" y="0" font-size="4.85" font-weight="bold" text-anchor="end" fill="#000" >GM-CSF</text></g>
<line x1="139.45" y1="437.70" x2="139.45" y2="435.50" stroke="#4a4a4a" stroke-width="0.8"/>
<rect x="136.85" y="438.05" width="5.20" height="39.25" fill="url(#hatchs)" stroke="#111" stroke-width="0.7"/>
<g transform="translate(140.15,479.00) rotate(-90)"><text x="0" y="0" font-size="4.85" font-weight="bold" text-anchor="end" fill="#000" >GM-CSF+FL</text></g>
<line x1="146.95" y1="428.40" x2="146.95" y2="426.00" stroke="#4a4a4a" stroke-width="0.8"/>
<rect x="144.35" y="428.75" width="5.20" height="48.55" fill="url(#hatchs)" stroke="#111" stroke-width="0.7"/>
<g transform="translate(147.65,479.00) rotate(-90)"><text x="0" y="0" font-size="4.85" font-weight="bold" text-anchor="end" fill="#000" >GMCSF+SCF</text></g>
<line x1="154.75" y1="427.10" x2="154.75" y2="425.00" stroke="#4a4a4a" stroke-width="0.8"/>
<rect x="152.15" y="427.45" width="5.20" height="49.85" fill="url(#hatchs)" stroke="#111" stroke-width="0.7"/>
<g transform="translate(155.45,479.00) rotate(-90)"><text x="0" y="0" font-size="4.85" font-weight="bold" text-anchor="end" fill="#000" >IL-3</text></g>
<line x1="162.15" y1="425.70" x2="162.15" y2="423.50" stroke="#4a4a4a" stroke-width="0.8"/>
<rect x="159.65" y="426.05" width="5.00" height="51.25" fill="url(#hatchs)" stroke="#111" stroke-width="0.7"/>
<g transform="translate(162.85,479.00) rotate(-90)"><text x="0" y="0" font-size="4.85" font-weight="bold" text-anchor="end" fill="#000" >IL-3+FL</text></g>
<line x1="169.65" y1="417.80" x2="169.65" y2="415.10" stroke="#4a4a4a" stroke-width="0.8"/>
<rect x="167.25" y="418.15" width="4.80" height="59.15" fill="url(#hatchs)" stroke="#111" stroke-width="0.7"/>
<g transform="translate(170.35,479.00) rotate(-90)"><text x="0" y="0" font-size="4.85" font-weight="bold" text-anchor="end" fill="#000" >IL-3+SCF</text></g>
<rect x="189.55" y="477.25" width="4.10" height="0.05" fill="#b2b2b2" stroke="#4a4a4a" stroke-width="0.7"/>
<g transform="translate(192.30,479.00) rotate(-90)"><text x="0" y="0" font-size="4.85" font-weight="bold" text-anchor="end" fill="#000" >FL</text></g>
<line x1="199.40" y1="452.00" x2="199.40" y2="449.50" stroke="#4a4a4a" stroke-width="0.8"/>
<rect x="197.05" y="452.35" width="4.70" height="24.95" fill="#b2b2b2" stroke="#4a4a4a" stroke-width="0.7"/>
<g transform="translate(200.10,479.00) rotate(-90)"><text x="0" y="0" font-size="4.85" font-weight="bold" text-anchor="end" fill="#000" >SCF</text></g>
<line x1="206.65" y1="444.20" x2="206.65" y2="440.70" stroke="#4a4a4a" stroke-width="0.8"/>
<rect x="204.05" y="444.55" width="5.20" height="32.75" fill="#b2b2b2" stroke="#4a4a4a" stroke-width="0.7"/>
<g transform="translate(207.35,479.00) rotate(-90)"><text x="0" y="0" font-size="4.85" font-weight="bold" text-anchor="end" fill="#000" >GM-CSF</text></g>
<line x1="214.25" y1="424.80" x2="214.25" y2="422.50" stroke="#4a4a4a" stroke-width="0.8"/>
<rect x="211.55" y="425.15" width="5.40" height="52.15" fill="#b2b2b2" stroke="#4a4a4a" stroke-width="0.7"/>
<g transform="translate(214.25,421.90)"><text x="0" y="0" font-size="5.0" font-weight="bold" text-anchor="middle" fill="#222" >a</text></g>
<g transform="translate(214.95,479.00) rotate(-90)"><text x="0" y="0" font-size="4.85" font-weight="bold" text-anchor="end" fill="#000" >GM-CSF+FL</text></g>
<rect x="220.30" y="470.40" width="1.70" height="6.90" fill="#999"/>
<g transform="translate(221.15,469.10)"><text x="0" y="0" font-size="5.0" font-weight="bold" text-anchor="middle" fill="#222" >a</text></g>
<g transform="translate(222.20,479.00) rotate(-90)"><text x="0" y="0" font-size="4.85" font-weight="bold" text-anchor="end" fill="#000" >GMCSF+SCF</text></g>
<line x1="229.70" y1="445.90" x2="229.70" y2="443.50" stroke="#4a4a4a" stroke-width="0.8"/>
<rect x="227.45" y="446.25" width="4.50" height="31.05" fill="#b2b2b2" stroke="#4a4a4a" stroke-width="0.7"/>
<g transform="translate(230.40,479.00) rotate(-90)"><text x="0" y="0" font-size="4.85" font-weight="bold" text-anchor="end" fill="#000" >IL-3</text></g>
<line x1="237.05" y1="395.80" x2="237.05" y2="393.50" stroke="#4a4a4a" stroke-width="0.8"/>
<rect x="234.45" y="396.15" width="5.20" height="81.15" fill="#b2b2b2" stroke="#4a4a4a" stroke-width="0.7"/>
<g transform="translate(237.05,393.10)"><text x="0" y="0" font-size="5.0" font-weight="bold" text-anchor="middle" fill="#222" >a</text></g>
<g transform="translate(237.75,479.00) rotate(-90)"><text x="0" y="0" font-size="4.85" font-weight="bold" text-anchor="end" fill="#000" >IL-3+FL</text></g>
<line x1="244.70" y1="373.60" x2="244.70" y2="370.50" stroke="#4a4a4a" stroke-width="0.8"/>
<rect x="242.25" y="373.95" width="4.90" height="103.35" fill="#b2b2b2" stroke="#4a4a4a" stroke-width="0.7"/>
<g transform="translate(244.70,369.70)"><text x="0" y="0" font-size="5.0" font-weight="bold" text-anchor="middle" fill="#222" >a</text></g>
<g transform="translate(245.40,479.00) rotate(-90)"><text x="0" y="0" font-size="4.85" font-weight="bold" text-anchor="end" fill="#000" >IL-3+SCF</text></g>
<rect x="248.55" y="375.55" width="5.10" height="101.75" fill="#b2b2b2" stroke="#4a4a4a" stroke-width="0.7"/>
<g transform="translate(263.60,354.00)"><text x="0" y="0" font-size="13.6" font-weight="bold" text-anchor="start" fill="#000" >E</text></g>
<line x1="289.30" y1="345.60" x2="514.00" y2="345.60" stroke="#8a8a8a" stroke-width="1.0"/>
<line x1="514.00" y1="345.60" x2="514.00" y2="470.00" stroke="#8a8a8a" stroke-width="1.0"/>
<line x1="289.30" y1="345.60" x2="289.30" y2="470.00" stroke="#7a7a7a" stroke-width="1.0"/>
<line x1="288.80" y1="470.00" x2="514.00" y2="470.00" stroke="#7a7a7a" stroke-width="1.0"/>
<line x1="286.70" y1="470.20" x2="289.30" y2="470.20" stroke="#7a7a7a" stroke-width="0.8"/>
<g transform="translate(285.30,473.77)"><text x="0" y="0" font-size="6.3" font-weight="bold" text-anchor="end" fill="#000" >0</text></g>
<line x1="286.70" y1="458.14" x2="289.30" y2="458.14" stroke="#7a7a7a" stroke-width="0.8"/>
<g transform="translate(285.30,461.71)"><text x="0" y="0" font-size="6.3" font-weight="bold" text-anchor="end" fill="#000" >10</text></g>
<line x1="286.70" y1="446.08" x2="289.30" y2="446.08" stroke="#7a7a7a" stroke-width="0.8"/>
<g transform="translate(285.30,449.65)"><text x="0" y="0" font-size="6.3" font-weight="bold" text-anchor="end" fill="#000" >20</text></g>
<line x1="286.70" y1="434.02" x2="289.30" y2="434.02" stroke="#7a7a7a" stroke-width="0.8"/>
<g transform="translate(285.30,437.59)"><text x="0" y="0" font-size="6.3" font-weight="bold" text-anchor="end" fill="#000" >30</text></g>
<line x1="286.70" y1="421.96" x2="289.30" y2="421.96" stroke="#7a7a7a" stroke-width="0.8"/>
<g transform="translate(285.30,425.53)"><text x="0" y="0" font-size="6.3" font-weight="bold" text-anchor="end" fill="#000" >40</text></g>
<line x1="286.70" y1="409.90" x2="289.30" y2="409.90" stroke="#7a7a7a" stroke-width="0.8"/>
<g transform="translate(285.30,413.47)"><text x="0" y="0" font-size="6.3" font-weight="bold" text-anchor="end" fill="#000" >50</text></g>
<line x1="286.70" y1="397.84" x2="289.30" y2="397.84" stroke="#7a7a7a" stroke-width="0.8"/>
<g transform="translate(285.30,401.41)"><text x="0" y="0" font-size="6.3" font-weight="bold" text-anchor="end" fill="#000" >60</text></g>
<line x1="286.70" y1="385.78" x2="289.30" y2="385.78" stroke="#7a7a7a" stroke-width="0.8"/>
<g transform="translate(285.30,389.35)"><text x="0" y="0" font-size="6.3" font-weight="bold" text-anchor="end" fill="#000" >70</text></g>
<line x1="286.70" y1="373.72" x2="289.30" y2="373.72" stroke="#7a7a7a" stroke-width="0.8"/>
<g transform="translate(285.30,377.29)"><text x="0" y="0" font-size="6.3" font-weight="bold" text-anchor="end" fill="#000" >80</text></g>
<line x1="286.70" y1="361.66" x2="289.30" y2="361.66" stroke="#7a7a7a" stroke-width="0.8"/>
<g transform="translate(285.30,365.23)"><text x="0" y="0" font-size="6.3" font-weight="bold" text-anchor="end" fill="#000" >90</text></g>
<line x1="287.80" y1="464.17" x2="289.30" y2="464.17" stroke="#7a7a7a" stroke-width="0.7"/>
<line x1="287.80" y1="452.11" x2="289.30" y2="452.11" stroke="#7a7a7a" stroke-width="0.7"/>
<line x1="287.80" y1="440.05" x2="289.30" y2="440.05" stroke="#7a7a7a" stroke-width="0.7"/>
<line x1="287.80" y1="427.99" x2="289.30" y2="427.99" stroke="#7a7a7a" stroke-width="0.7"/>
<line x1="287.80" y1="415.93" x2="289.30" y2="415.93" stroke="#7a7a7a" stroke-width="0.7"/>
<line x1="287.80" y1="403.87" x2="289.30" y2="403.87" stroke="#7a7a7a" stroke-width="0.7"/>
<line x1="287.80" y1="391.81" x2="289.30" y2="391.81" stroke="#7a7a7a" stroke-width="0.7"/>
<line x1="287.80" y1="379.75" x2="289.30" y2="379.75" stroke="#7a7a7a" stroke-width="0.7"/>
<line x1="287.80" y1="367.69" x2="289.30" y2="367.69" stroke="#7a7a7a" stroke-width="0.7"/>
<line x1="287.80" y1="355.63" x2="289.30" y2="355.63" stroke="#7a7a7a" stroke-width="0.7"/>
<g transform="translate(273.80,408.30) rotate(-90)"><text x="0" y="0" font-size="6.4" font-weight="bold" text-anchor="middle" fill="#000" textLength="27.4" lengthAdjust="spacingAndGlyphs" >Colonies</text></g>
<g transform="translate(324.40,353.50)"><text x="0" y="0" font-size="5.7" font-weight="bold" text-anchor="middle" fill="#000" textLength="26.2" lengthAdjust="spacingAndGlyphs" >Wild Type</text></g>
<g transform="translate(324.40,358.90)"><text x="0" y="0" font-size="5.7" font-weight="bold" text-anchor="middle" fill="#000" textLength="19.5" lengthAdjust="spacingAndGlyphs" >Control</text></g>
<g transform="translate(400.40,352.90)"><text x="0" y="0" font-size="5.5" font-weight="bold" text-anchor="middle" fill="#000" textLength="14.5" lengthAdjust="spacingAndGlyphs" >CD1d</text></g>
<g transform="translate(400.40,359.60)"><text x="0" y="0" font-size="5.5" font-weight="bold" text-anchor="middle" fill="#000" textLength="4.8" lengthAdjust="spacingAndGlyphs" >-/-</text></g>
<g transform="translate(474.40,352.90)"><text x="0" y="0" font-size="5.5" font-weight="bold" text-anchor="middle" fill="#000" textLength="14.5" lengthAdjust="spacingAndGlyphs" >CD1d</text></g>
<g transform="translate(474.60,359.10)"><text x="0" y="0" font-size="5.5" font-weight="bold" text-anchor="middle" fill="#000" textLength="24.3" lengthAdjust="spacingAndGlyphs" >Knock-in</text></g>
<line x1="299.40" y1="399.70" x2="299.40" y2="397.40" stroke="#4a4a4a" stroke-width="0.8"/>
<rect x="296.70" y="399.70" width="5.40" height="70.30" fill="#000"/>
<g transform="translate(300.90,472.60) rotate(-90)"><text x="0" y="0" font-size="4.9" font-weight="bold" text-anchor="end" fill="#000" >Media</text></g>
<line x1="309.10" y1="431.70" x2="309.10" y2="430.00" stroke="#4a4a4a" stroke-width="0.8"/>
<rect x="306.40" y="431.70" width="5.40" height="38.30" fill="#000"/>
<circle cx="309.10" cy="422.60" r="1.05" fill="#2a2a2a"/>
<g transform="translate(310.60,472.60) rotate(-90)"><text x="0" y="0" font-size="4.9" font-weight="bold" text-anchor="end" fill="#000" >TNF&#945;</text></g>
<line x1="318.15" y1="433.70" x2="318.15" y2="432.00" stroke="#4a4a4a" stroke-width="0.8"/>
<rect x="315.30" y="433.70" width="5.70" height="36.30" fill="#000"/>
<circle cx="318.15" cy="422.60" r="1.05" fill="#2a2a2a"/>
<g transform="translate(319.65,472.60) rotate(-90)"><text x="0" y="0" font-size="4.9" font-weight="bold" text-anchor="end" fill="#000" >IFN&#947;</text></g>
<line x1="327.40" y1="433.70" x2="327.40" y2="432.00" stroke="#4a4a4a" stroke-width="0.8"/>
<rect x="324.70" y="433.70" width="5.40" height="36.30" fill="#000"/>
<circle cx="327.40" cy="422.60" r="1.05" fill="#2a2a2a"/>
<g transform="translate(328.90,472.60) rotate(-90)"><text x="0" y="0" font-size="4.9" font-weight="bold" text-anchor="end" fill="#000" >CCL3 / MIP-1&#945;</text></g>
<line x1="337.40" y1="436.00" x2="337.40" y2="434.50" stroke="#4a4a4a" stroke-width="0.8"/>
<rect x="334.70" y="436.00" width="5.40" height="34.00" fill="#000"/>
<circle cx="337.40" cy="422.60" r="1.05" fill="#2a2a2a"/>
<g transform="translate(338.90,472.60) rotate(-90)"><text x="0" y="0" font-size="4.9" font-weight="bold" text-anchor="end" fill="#000" >CXCL5 / ENA-78</text></g>
<line x1="346.65" y1="430.00" x2="346.65" y2="428.00" stroke="#4a4a4a" stroke-width="0.8"/>
<rect x="344.10" y="430.00" width="5.10" height="40.00" fill="#000"/>
<circle cx="346.65" cy="422.60" r="1.05" fill="#2a2a2a"/>
<g transform="translate(348.15,472.60) rotate(-90)"><text x="0" y="0" font-size="4.9" font-weight="bold" text-anchor="end" fill="#000" >CXCL8 / IL-8</text></g>
<line x1="374.75" y1="376.10" x2="374.75" y2="373.20" stroke="#4a4a4a" stroke-width="0.8"/>
<rect x="371.95" y="376.45" width="5.60" height="93.55" fill="url(#hatchs)" stroke="#111" stroke-width="0.7"/>
<g transform="translate(376.25,472.60) rotate(-90)"><text x="0" y="0" font-size="4.9" font-weight="bold" text-anchor="end" fill="#000" >Media</text></g>
<line x1="384.00" y1="419.70" x2="384.00" y2="417.50" stroke="#4a4a4a" stroke-width="0.8"/>
<rect x="381.15" y="420.05" width="5.70" height="49.95" fill="url(#hatchs)" stroke="#111" stroke-width="0.7"/>
<circle cx="384.40" cy="416.30" r="1.05" fill="#2a2a2a"/>
<g transform="translate(385.50,472.60) rotate(-90)"><text x="0" y="0" font-size="4.9" font-weight="bold" text-anchor="end" fill="#000" >TNF&#945;</text></g>
<line x1="393.45" y1="423.50" x2="393.45" y2="421.50" stroke="#4a4a4a" stroke-width="0.8"/>
<rect x="390.65" y="423.85" width="5.60" height="46.15" fill="url(#hatchs)" stroke="#111" stroke-width="0.7"/>
<circle cx="393.85" cy="416.30" r="1.05" fill="#2a2a2a"/>
<g transform="translate(394.95,472.60) rotate(-90)"><text x="0" y="0" font-size="4.9" font-weight="bold" text-anchor="end" fill="#000" >IFN&#947;</text></g>
<line x1="402.95" y1="374.90" x2="402.95" y2="372.60" stroke="#4a4a4a" stroke-width="0.8"/>
<rect x="400.15" y="375.25" width="5.60" height="94.75" fill="url(#hatchs)" stroke="#111" stroke-width="0.7"/>
<g transform="translate(404.45,472.60) rotate(-90)"><text x="0" y="0" font-size="4.9" font-weight="bold" text-anchor="end" fill="#000" >CCL3 / MIP-1&#945;</text></g>
<line x1="412.00" y1="374.50" x2="412.00" y2="370.70" stroke="#4a4a4a" stroke-width="0.8"/>
<rect x="409.35" y="374.85" width="5.30" height="95.15" fill="url(#hatchs)" stroke="#111" stroke-width="0.7"/>
<g transform="translate(413.50,472.60) rotate(-90)"><text x="0" y="0" font-size="4.9" font-weight="bold" text-anchor="end" fill="#000" >CXCL5 / ENA-78</text></g>
<line x1="421.35" y1="374.50" x2="421.35" y2="372.00" stroke="#4a4a4a" stroke-width="0.8"/>
<rect x="418.55" y="374.85" width="5.60" height="95.15" fill="url(#hatchs)" stroke="#111" stroke-width="0.7"/>
<g transform="translate(422.85,472.60) rotate(-90)"><text x="0" y="0" font-size="4.9" font-weight="bold" text-anchor="end" fill="#000" >CXCL8 / IL-8</text></g>
<line x1="450.10" y1="409.50" x2="450.10" y2="407.50" stroke="#4a4a4a" stroke-width="0.8"/>
<rect x="447.65" y="409.85" width="4.90" height="60.15" fill="#b2b2b2" stroke="#4a4a4a" stroke-width="0.7"/>
<g transform="translate(451.60,472.60) rotate(-90)"><text x="0" y="0" font-size="4.9" font-weight="bold" text-anchor="end" fill="#000" >Media</text></g>
<line x1="459.00" y1="434.00" x2="459.00" y2="431.50" stroke="#4a4a4a" stroke-width="0.8"/>
<rect x="456.45" y="434.35" width="5.10" height="35.65" fill="#b2b2b2" stroke="#4a4a4a" stroke-width="0.7"/>
<circle cx="459.00" cy="424.80" r="1.05" fill="#2a2a2a"/>
<g transform="translate(460.50,472.60) rotate(-90)"><text x="0" y="0" font-size="4.9" font-weight="bold" text-anchor="end" fill="#000" >TNF&#945;</text></g>
<line x1="468.25" y1="436.20" x2="468.25" y2="434.50" stroke="#4a4a4a" stroke-width="0.8"/>
<rect x="465.45" y="436.55" width="5.60" height="33.45" fill="#b2b2b2" stroke="#4a4a4a" stroke-width="0.7"/>
<circle cx="468.25" cy="424.80" r="1.05" fill="#2a2a2a"/>
<g transform="translate(469.75,472.60) rotate(-90)"><text x="0" y="0" font-size="4.9" font-weight="bold" text-anchor="end" fill="#000" >IFN&#947;</text></g>
<line x1="477.85" y1="432.10" x2="477.85" y2="430.00" stroke="#4a4a4a" stroke-width="0.8"/>
<rect x="475.45" y="432.45" width="4.80" height="37.55" fill="#b2b2b2" stroke="#4a4a4a" stroke-width="0.7"/>
<circle cx="477.85" cy="424.80" r="1.05" fill="#2a2a2a"/>
<g transform="translate(479.35,472.60) rotate(-90)"><text x="0" y="0" font-size="4.9" font-weight="bold" text-anchor="end" fill="#000" >CCL3 / MIP-1&#945;</text></g>
<line x1="487.05" y1="434.00" x2="487.05" y2="431.50" stroke="#4a4a4a" stroke-width="0.8"/>
<rect x="484.45" y="434.35" width="5.20" height="35.65" fill="#b2b2b2" stroke="#4a4a4a" stroke-width="0.7"/>
<circle cx="487.05" cy="424.80" r="1.05" fill="#2a2a2a"/>
<g transform="translate(488.55,472.60) rotate(-90)"><text x="0" y="0" font-size="4.9" font-weight="bold" text-anchor="end" fill="#000" >CXCL5 / ENA-78</text></g>
<line x1="496.05" y1="432.10" x2="496.05" y2="429.50" stroke="#4a4a4a" stroke-width="0.8"/>
<rect x="493.25" y="432.45" width="5.60" height="37.55" fill="#b2b2b2" stroke="#4a4a4a" stroke-width="0.7"/>
<circle cx="496.05" cy="424.80" r="1.05" fill="#2a2a2a"/>
<g transform="translate(497.55,472.60) rotate(-90)"><text x="0" y="0" font-size="4.9" font-weight="bold" text-anchor="end" fill="#000" >CXCL8 / IL-8</text></g>
</g>
</svg></body></html>
